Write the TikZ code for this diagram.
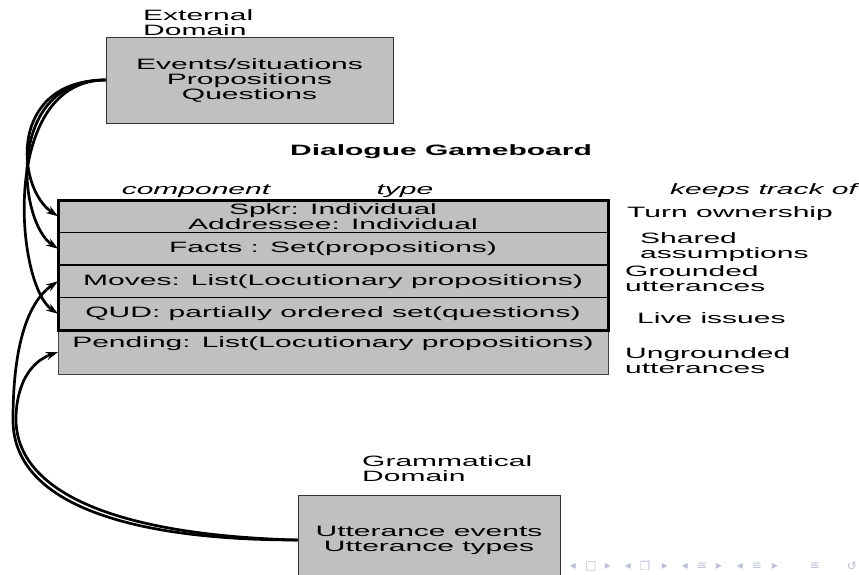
\documentclass[tikz,border=0pt]{standalone}
\usepackage{fontspec}
\setmainfont{Liberation Sans}[FakeStretch=2.0]
\newfontfamily\navfont{DejaVu Sans}
\usetikzlibrary{positioning}
\usetikzlibrary{arrows.meta}
\definecolor{boardgray}{RGB}{192,192,192}
\definecolor{navgray}{RGB}{188,192,214}
\newcommand\gbfont{\fontsize{15}{15}\selectfont}

\tikzset{
  every node/.style={font=\gbfont, inner sep=0pt},
  domainbox/.style={draw=black!80, line width=0.8pt, fill=boardgray, align=center},
  slot/.style={draw=black, line width=1.4pt, fill=boardgray, outer sep=0pt,
    minimum width=550pt, minimum height=32.5pt, align=center},
  colhead/.style={anchor=base, font=\gbfont\itshape},
  feed/.style={line width=2.7pt, -{Stealth[length=12pt,width=8pt]}},
  nav/.style={font=\navfont\fontsize{12}{12}\selectfont, text=navgray},
}

\begin{document}
\begin{tikzpicture}[x=1pt,y=-1pt]
  \useasboundingbox (0,0) rectangle (859,574);
  \clip (0,0) rectangle (859,574);

  % external domain
  \node[anchor=north west, align=left] (extlbl) at (143,9.6) {External\\Domain};
  \node[domainbox, minimum width=287pt, minimum height=86pt] (ext) at (249.5,80)
    {Events/situations\\Propositions\\Questions};

  % gameboard
  \node[anchor=base, font=\gbfont\bfseries] (board) at (441,155.5) {Dialogue Gameboard};
  \node[colhead] (colcomp) at (196,194) {component};
  \node[colhead] (coltype) at (405,194) {type};
  \node[colhead, anchor=base west] (coltrack) at (670,194) {keeps track of};

  \node[slot, anchor=north] (spkr) at (333,200) {Spkr: Individual\\Addressee: Individual};
  \node[slot, below=0pt of spkr] (facts) {Facts : Set(propositions)};
  \node[slot, below=0pt of facts] (moves) {Moves: List(Locutionary propositions)};
  \node[slot, below=0pt of moves] (qud) {QUD: partially ordered set(questions)};
  \node[slot, below=0pt of qud, line width=0.7pt, draw=black!75, minimum height=44pt,
    text height=16.5pt, text depth=25.5pt, inner ysep=1pt] (pending)
    {Pending: List(Locutionary propositions)};
  \draw[line width=3pt] (spkr.north west) rectangle (qud.south east); % thick frame

  \node[anchor=base west] (turn) at (627,217.5) {Turn ownership};
  \node[anchor=north west, align=left] (shared) at (640,232.6) {Shared\\assumptions};
  \node[anchor=north west, align=left] (grounded) at (625,265.6) {Grounded\\utterances};
  \node[anchor=base west] (live) at (637,323.5) {Live issues};
  \node[anchor=north west, align=left] (ungrounded) at (625,347.6) {Ungrounded\\utterances};

  % grammatical domain
  \node[anchor=north west, align=left] (gramlbl) at (362,455.8) {Grammatical\\Domain};
  \node[domainbox, minimum width=262pt, minimum height=90pt] (gram) at (429,540)
    {Utterance events\\Utterance types};

  \draw[feed] (ext.west) .. controls +(-98,0) and +(-42,-28) .. (spkr.west);
  \draw[feed] (ext.west) .. controls +(-101,0) and +(-40,-27) .. (facts.west);
  \draw[feed] (ext.west) .. controls +(-106,0) and +(-43,-29) .. (qud.west);
  \draw[feed] (gram.west) .. controls +(-178,0) and +(0,80) .. (13,420)
    .. controls +(0,-80) and +(-28,19) .. (moves.west);
  \draw[feed] (gram.west) .. controls +(-188,-5) and +(1,70) .. (16,420)
    .. controls +(0,-35) and +(-28,10) .. (pending.west);

  \foreach \nx/\ng [count=\ni] in {573/◂,591/□,608/▸,628/◂,645/❐,665/▸,685/◂,702/≡,
      719/▸,740/◂,757/≡,775/▸,815/≡,852/↺}
    \node[nav] (nav\ni) at (\nx,566) {\ng};
\end{tikzpicture}
\end{document}
